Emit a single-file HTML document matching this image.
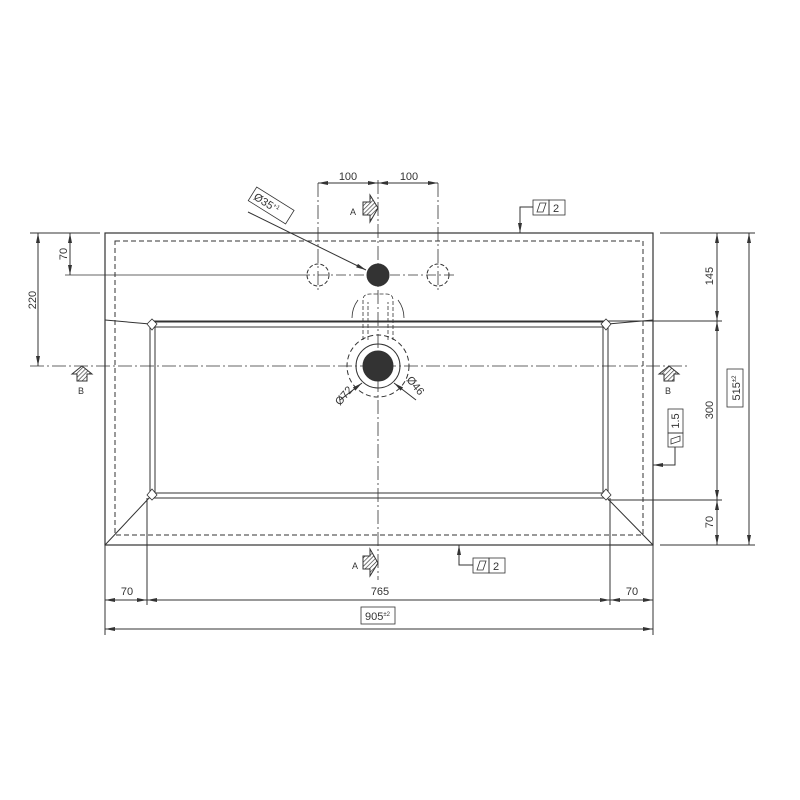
<!DOCTYPE html>
<html><head><meta charset="utf-8"><style>body{margin:0;background:#fff}svg{display:block}</style></head><body>
<svg width="800" height="800" viewBox="0 0 800 800" xmlns="http://www.w3.org/2000/svg" font-family="Liberation Sans, sans-serif" fill="none" stroke="#333" stroke-width="1">
<defs>
<pattern id="h" width="3" height="3" patternUnits="userSpaceOnUse" patternTransform="rotate(45)"><line x1="0" y1="0" x2="0" y2="3" stroke="#333" stroke-width="1.3"/></pattern>
<marker id="a" markerWidth="10" markerHeight="6" refX="10" refY="3" orient="auto-start-reverse" markerUnits="userSpaceOnUse"><path d="M0,1 L10,3 L0,5 Z" fill="#333" stroke="none"/></marker>
</defs>
<rect x="105" y="233" width="548" height="312" stroke-width="1.2"/>
<rect x="115" y="241" width="528" height="294" stroke-dasharray="5,3"/>
<path d="M105,320 L150,324 M653,320 L608,324 M105,545 L150,497 M653,545 L606,497"/>
<line x1="150" y1="321" x2="722" y2="321"/>
<rect x="150" y="322" width="458" height="176"/>
<rect x="155" y="327" width="448" height="166"/>
<path d="M147,324 L152,319 L157,324 L152,330 Z M601,324 L606,319 L611,324 L606,330 Z M147,495 L152,489 L157,495 L152,500 Z M601,495 L606,489 L611,495 L606,500 Z" fill="#fff" stroke-width="0.8"/>
<line x1="608" y1="500" x2="722" y2="500"/>
<line x1="378" y1="180" x2="378" y2="580" stroke-dasharray="14,3,2,3" stroke-width="0.8"/>
<line x1="30" y1="366" x2="690" y2="366" stroke-dasharray="14,3,2,3" stroke-width="0.8"/>
<line x1="65" y1="275" x2="300" y2="275" stroke-width="0.8"/>
<line x1="300" y1="275" x2="455" y2="275" stroke-dasharray="10,3,2,3" stroke-width="0.8"/>
<circle cx="318" cy="275" r="11" stroke-dasharray="4,2"/>
<circle cx="438" cy="275" r="11" stroke-dasharray="4,2"/>
<line x1="318" y1="183" x2="318" y2="292" stroke-dasharray="14,3,2,3" stroke-width="0.8"/>
<line x1="438" y1="183" x2="438" y2="292" stroke-dasharray="14,3,2,3" stroke-width="0.8"/>
<circle cx="378" cy="275" r="11" fill="#333"/>
<path d="M363,340 L363,300 Q363,294 370,294 L386,294 Q393,294 393,300 L393,340 M368,340 L368,302 M388,340 L388,302" stroke-dasharray="4,2" stroke-width="0.8"/>
<path d="M358,300 Q352,308 352,318 M398,300 Q404,308 404,318" stroke-width="0.8"/>
<circle cx="378" cy="366" r="31" stroke-dasharray="5,3"/>
<circle cx="378" cy="366" r="22"/>
<circle cx="378" cy="366" r="15" fill="#333"/>
<line x1="340" y1="400" x2="362" y2="383" marker-end="url(#a)"/>
<line x1="416" y1="400" x2="394" y2="383" marker-end="url(#a)"/>
<text x="340" y="406" transform="rotate(-50 340 406)" font-size="11" fill="#333" stroke="none">Ø72</text>
<text x="406" y="380" transform="rotate(50 406 380)" font-size="11" fill="#333" stroke="none">Ø46</text>
<g transform="rotate(32 272 206)"><rect x="249" y="198" width="44" height="16" stroke-width="0.8"/><text x="252" y="210" font-size="11" fill="#333" stroke="none">Ø35<tspan font-size="6" dy="-4">+1</tspan></text></g>
<line x1="248" y1="212" x2="366" y2="270" marker-end="url(#a)"/>
<line x1="318" y1="183" x2="378" y2="183" marker-start="url(#a)" marker-end="url(#a)"/>
<line x1="378" y1="183" x2="438" y2="183" marker-start="url(#a)" marker-end="url(#a)"/>
<text x="348" y="180" font-size="11" fill="#333" stroke="none" text-anchor="middle">100</text>
<text x="409" y="180" font-size="11" fill="#333" stroke="none" text-anchor="middle">100</text>
<path d="M363,202 L370,202 L370,195 L378,208 L370,222 L370,215 L363,215 Z" fill="url(#h)"/>
<text x="350" y="215" font-size="9" fill="#333" stroke="none">A</text>
<path d="M363,556 L370,556 L370,549 L378,563 L370,576 L370,569 L363,569 Z" fill="url(#h)"/>
<text x="352" y="569" font-size="9" fill="#333" stroke="none">A</text>
<path d="M72,374 L82,366 L92,374 L87,374 L87,381 L77,381 L77,374 Z" fill="url(#h)"/>
<text x="78" y="394" font-size="9" fill="#333" stroke="none">B</text>
<path d="M659,374 L669,366 L679,374 L674,374 L674,381 L664,381 L664,374 Z" fill="url(#h)"/>
<text x="665" y="394" font-size="9" fill="#333" stroke="none">B</text>
<rect x="533" y="200" width="16" height="15" stroke-width="0.8"/><rect x="549" y="200" width="16" height="15" stroke-width="0.8"/>
<path d="M537,212 L540,203 L546,203 L543,212 Z" stroke-width="0.8"/>
<text x="553" y="212" font-size="11" fill="#333" stroke="none">2</text>
<path d="M533,207 L520,207 L520,233" marker-end="url(#a)"/>
<rect x="473" y="558" width="16" height="15" stroke-width="0.8"/><rect x="489" y="558" width="16" height="15" stroke-width="0.8"/>
<path d="M477,570 L480,561 L486,561 L483,570 Z" stroke-width="0.8"/>
<text x="493" y="570" font-size="11" fill="#333" stroke="none">2</text>
<path d="M473,565 L459,565 L459,545" marker-end="url(#a)"/>
<rect x="668" y="409" width="15" height="24" stroke-width="0.8"/><rect x="668" y="433" width="15" height="14" stroke-width="0.8"/>
<path d="M671,444 L680,441 L680,436 L671,439 Z" stroke-width="0.8"/>
<text x="679" y="421" transform="rotate(-90 679 421)" font-size="11" fill="#333" stroke="none" text-anchor="middle">1.5</text>
<path d="M675,447 L675,465 L653,465" marker-end="url(#a)"/>
<line x1="30" y1="233" x2="100" y2="233"/>
<line x1="38" y1="233" x2="38" y2="366" marker-start="url(#a)" marker-end="url(#a)"/>
<line x1="70" y1="233" x2="70" y2="275" marker-start="url(#a)" marker-end="url(#a)"/>
<text x="36" y="300" transform="rotate(-90 36 300)" font-size="11" fill="#333" stroke="none" text-anchor="middle">220</text>
<text x="67" y="254" transform="rotate(-90 67 254)" font-size="11" fill="#333" stroke="none" text-anchor="middle">70</text>
<line x1="660" y1="233" x2="755" y2="233"/>
<line x1="660" y1="545" x2="755" y2="545"/>
<line x1="717" y1="233" x2="717" y2="321" marker-start="url(#a)" marker-end="url(#a)"/>
<line x1="717" y1="321" x2="717" y2="500" marker-start="url(#a)" marker-end="url(#a)"/>
<line x1="717" y1="500" x2="717" y2="545" marker-start="url(#a)" marker-end="url(#a)"/>
<line x1="749" y1="233" x2="749" y2="545" marker-start="url(#a)" marker-end="url(#a)"/>
<text x="713" y="276" transform="rotate(-90 713 276)" font-size="11" fill="#333" stroke="none" text-anchor="middle">145</text>
<text x="713" y="410" transform="rotate(-90 713 410)" font-size="11" fill="#333" stroke="none" text-anchor="middle">300</text>
<text x="713" y="522" transform="rotate(-90 713 522)" font-size="11" fill="#333" stroke="none" text-anchor="middle">70</text>
<rect x="727" y="369" width="16" height="38" stroke-width="0.8"/>
<text x="740" y="388" transform="rotate(-90 740 388)" font-size="11" fill="#333" stroke="none" text-anchor="middle">515<tspan font-size="6" dy="-4">±2</tspan></text>
<line x1="105" y1="545" x2="105" y2="635"/>
<line x1="653" y1="545" x2="653" y2="635"/>
<line x1="147" y1="498" x2="147" y2="605"/>
<line x1="610" y1="498" x2="610" y2="605"/>
<line x1="105" y1="600" x2="147" y2="600" marker-start="url(#a)" marker-end="url(#a)"/>
<line x1="147" y1="600" x2="610" y2="600" marker-start="url(#a)" marker-end="url(#a)"/>
<line x1="610" y1="600" x2="653" y2="600" marker-start="url(#a)" marker-end="url(#a)"/>
<line x1="105" y1="629" x2="653" y2="629" marker-start="url(#a)" marker-end="url(#a)"/>
<text x="127" y="595" font-size="11" fill="#333" stroke="none" text-anchor="middle">70</text>
<text x="380" y="595" font-size="11" fill="#333" stroke="none" text-anchor="middle">765</text>
<text x="632" y="595" font-size="11" fill="#333" stroke="none" text-anchor="middle">70</text>
<rect x="361" y="607" width="34" height="17" stroke-width="0.8"/>
<text x="365" y="620" font-size="11" fill="#333" stroke="none">905<tspan font-size="6" dy="-4">±2</tspan></text>
</svg>
</body></html>
